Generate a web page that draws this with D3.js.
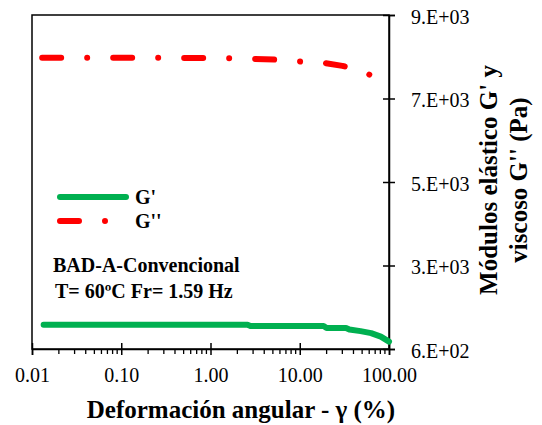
<!DOCTYPE html>
<html>
<head>
<meta charset="utf-8">
<script src="https://cdn.jsdelivr.net/npm/d3@7"></script>
<style>
  body { margin: 0; background: #fff; }
  text { font-family: "Liberation Serif", "Times New Roman", serif; fill: #000; }
</style>
</head>
<body>
<svg id="chart" width="542" height="425"></svg>
<script>
// G' (elastic modulus) vs strain
var strainG1 = [0.0135, 0.1, 1, 2.6, 2.8, 10, 18.5, 20, 33, 36, 48, 63, 81, 100];
var gPrime = [1212, 1212, 1212, 1212, 1180, 1180, 1180, 1130, 1130, 1090, 1050, 1000, 910, 785];

// G'' (viscous modulus) vs strain
var strainG2 = [0.013, 0.1, 1, 2.5, 5.4, 9.8, 17, 30, 50, 80, 100];
var gDouble = [7925, 7925, 7920, 7905, 7877, 7832, 7807, 7721, 7595, 7360, 7240];

var xTicks = [0.01, 0.1, 1, 10, 100];
var yTicks = [600, 2700, 4800, 6900, 9000];

// note: "top" is taken by window.top, so plain names here
var svg = d3.select("#chart"),
    plotL = 32, plotR = 389, plotT = 15, plotB = 349;

var x = d3.scaleLog().domain([0.01, 100]).range([plotL, plotR]);
var y = d3.scaleLinear().domain([600, 9000]).range([plotB, plotT]);

var sciFmt = function(d) {
    var e = Math.floor(Math.log10(d));
    var m = Math.round(d / Math.pow(10, e));
    return m + ".E+" + (e < 10 ? "0" + e : e);
}

// frame
svg.append("rect")
    .attr("x", plotL).attr("y", plotT)
    .attr("width", plotR - plotL).attr("height", plotB - plotT)
    .attr("fill", "none").attr("stroke", "#000").attr("stroke-width", 1.5);

// minor x ticks
var minor = [];
for (var k = -2; k < 2; k++) {
    for (var m = 2; m < 10; m++) minor.push(m * Math.pow(10, k));
}
svg.append("g").selectAll("line")
    .data(minor).enter().append("line")
    .attr("x1", function(d) { return x(d); }).attr("x2", function(d) { return x(d); })
    .attr("y1", plotB).attr("y2", plotB + 5)
    .attr("stroke", "#000").attr("stroke-width", 1.3);

// x axis
var gx = svg.append("g")
    .attr("transform", "translate(0," + plotB + ")")
    .call(d3.axisBottom(x).tickValues(xTicks).tickFormat(d3.format(".2f")).tickSize(6).tickPadding(13));
gx.select(".domain").attr("stroke-width", 1.5);
gx.selectAll(".tick line").attr("y1", -6).attr("stroke-width", 1.5);
gx.selectAll(".tick text").attr("font-size", 20).attr("font-family", "Liberation Serif");

// y axis on the right
var gy = svg.append("g")
    .attr("transform", "translate(" + plotR + ",0)")
    .call(d3.axisRight(y).tickValues(yTicks).tickFormat(sciFmt).tickSize(6).tickPadding(16));
gy.select(".domain").attr("stroke-width", 1.5);
gy.selectAll(".tick line").attr("x1", -6).attr("stroke-width", 1.5);
gy.selectAll(".tick text").attr("font-size", 20).attr("font-family", "Liberation Serif")
    .attr("dy", "0.4em");

var line = d3.line()
    .x(function(d) { return x(d[0]); })
    .y(function(d) { return y(d[1]); });

var dash = "19,26,0.001,26";

svg.append("path")
    .datum(d3.zip(strainG1, gPrime))
    .attr("d", line)
    .attr("fill", "none").attr("stroke", "#00b050").attr("stroke-width", 6)
    .attr("stroke-linecap", "round").attr("stroke-linejoin", "round");

svg.append("path")
    .datum(d3.zip(strainG2, gDouble))
    .attr("d", line)
    .attr("fill", "none").attr("stroke", "#ff0000").attr("stroke-width", 6)
    .attr("stroke-linecap", "round").attr("stroke-linejoin", "round")
    .attr("stroke-dasharray", dash);

// legend
svg.append("line").attr("x1", 60).attr("x2", 126).attr("y1", 197).attr("y2", 197)
    .attr("stroke", "#00b050").attr("stroke-width", 6).attr("stroke-linecap", "round");
svg.append("line").attr("x1", 60).attr("x2", 126).attr("y1", 221).attr("y2", 221)
    .attr("stroke", "#ff0000").attr("stroke-width", 6).attr("stroke-linecap", "round")
    .attr("stroke-dasharray", dash);
svg.append("text").attr("x", 135).attr("y", 204).attr("font-size", 20).attr("font-weight", "bold").text("G'");
svg.append("text").attr("x", 135).attr("y", 228).attr("font-size", 20).attr("font-weight", "bold").text("G''");

svg.append("text").attr("x", 53).attr("y", 272).attr("font-size", 20).attr("font-weight", "bold")
    .text("BAD-A-Convencional");
svg.append("text").attr("x", 55).attr("y", 298).attr("font-size", 20).attr("font-weight", "bold")
    .text("T= 60ºC Fr= 1.59 Hz");

// axis titles
svg.append("text").attr("x", 241).attr("y", 418).attr("text-anchor", "middle")
    .attr("font-size", 25).attr("font-weight", "bold")
    .text("Deformación angular - γ (%)");

svg.append("text").attr("transform", "translate(497,180) rotate(-90)").attr("text-anchor", "middle")
    .attr("font-size", 25).attr("font-weight", "bold")
    .text("Módulos elástico G' y");
svg.append("text").attr("transform", "translate(527,180) rotate(-90)").attr("text-anchor", "middle")
    .attr("font-size", 25).attr("font-weight", "bold")
    .text("viscoso G'' (Pa)");
</script>
</body>
</html>
